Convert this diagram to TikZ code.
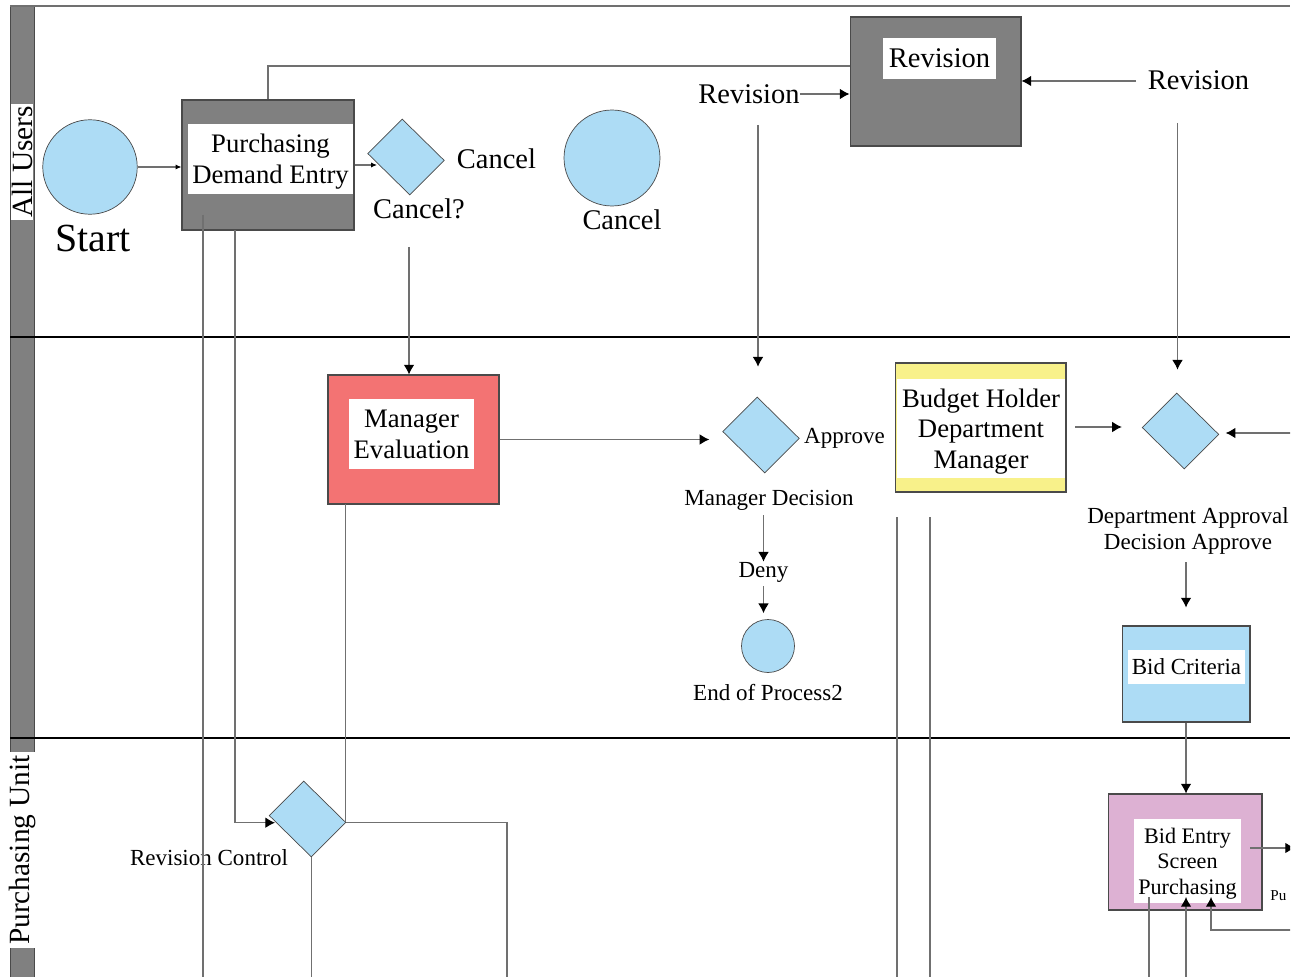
\documentclass[tikz,border=0pt]{standalone}
\usepackage{fontspec}
\setmainfont{Liberation Serif}
\usetikzlibrary{shapes.geometric,arrows.meta}

\definecolor{procgray}{HTML}{808080}
\definecolor{edgegray}{HTML}{4A4A4A}
\definecolor{linegray}{HTML}{707070}
\definecolor{evblue}{HTML}{ADDCF5}
\definecolor{evalred}{HTML}{F37373}
\definecolor{budyellow}{HTML}{F8F18A}
\definecolor{bidpink}{HTML}{DDB1D3}

\newcommand{\fntstart}{\fontsize{22.7}{26}\selectfont}
\newcommand{\fntlane}{\fontsize{16.7}{19}\selectfont}
\newcommand{\fntlabel}{\fontsize{16.2}{19}\selectfont}
\newcommand{\fntbox}{\fontsize{15.2}{17.4}\selectfont}
\newcommand{\fntnote}{\fontsize{13.1}{15.3}\selectfont}
\newcommand{\fntbid}{\fontsize{12.6}{14.5}\selectfont}
\newcommand{\fntclip}{\fontsize{8.6}{10}\selectfont}

\begin{document}
\begin{tikzpicture}[x=0.02cm,y=-0.02cm,
  conn/.style={draw=linegray,line width=0.6pt},
  arr/.style={conn,-{Latex[length=5.5pt,width=6pt,color=black]}},
  sarr/.style={conn,-{Latex[length=3.4pt,width=3pt,color=black]}},
  laneline/.style={draw=black,line width=0.6pt},
  lanelabel/.style={fill=white,rotate=90,inner xsep=1.5pt,inner ysep=0pt,minimum height=0.46cm,font=\fntlane},
  task/.style={draw=edgegray,line width=0.6pt,inner sep=0pt},
  tasktext/.style={fill=white,inner sep=0pt,align=center,text depth=0pt,font=\fntbox},
  decision/.style={diamond,draw=edgegray,fill=evblue,line width=0.4pt,inner sep=0pt,
    minimum width=1.52cm,minimum height=1.52cm,xslant=-0.1,yslant=-0.09},
  event/.style={circle,draw=edgegray,fill=evblue,line width=0.4pt,inner sep=0pt},
  lbl/.style={inner sep=0pt,font=\fntlabel},
  note/.style={inner sep=0pt,font=\fntnote,align=center}]
\useasboundingbox (0,0) rectangle (1300,976);
\clip (0,0) rectangle (1290,976);

% swim lanes
\draw[draw=edgegray,fill=procgray] (10,6) rectangle (34,990);
\draw[conn] (10,6) -- (1290,6);
\draw[laneline] (10,337) -- (1290,337);
\draw[laneline] (10,738) -- (1290,738);
\node[lanelabel] (users) at (22,162) {All Users};
\node[lanelabel] (purch) at (22,850) {Purchasing Unit};

% All Users
\node[event,minimum size=1.89cm] (start) at (90,167) {};
\node[lbl,font=\fntstart] (startlbl) at (93,238) {Start};
\node[task,fill=procgray,minimum width=3.44cm,minimum height=2.6cm] (pde) at (268,165) {};
\node[tasktext,minimum width=3.3cm,minimum height=1.4cm] (pdetxt) at (270.5,159) {Purchasing\\Demand Entry};
\node[decision] (cancelq) at (406,157) {};
\node[lbl] (cancelqlbl) at (419,208.5) {Cancel?};
\node[lbl] (cancelyes) at (496.5,158.5) {Cancel};
\node[event,minimum size=1.92cm] (cancel) at (612,158) {};
\node[lbl] (cancellbl) at (622,220) {Cancel};
\node[task,fill=procgray,minimum width=3.42cm,minimum height=2.58cm] (rev) at (935.5,81.5) {};
\node[tasktext,font=\fntlabel,minimum width=2.26cm,minimum height=0.82cm] (revtxt) at (939.5,58.5) {Revision};
\node[lbl] (revleft) at (749,94) {Revision};
\node[lbl] (revright) at (1198.5,80.5) {Revision};

% Manager
\node[task,fill=evalred,minimum width=3.42cm,minimum height=2.58cm] (meval) at (413.5,439.5) {};
\node[tasktext,minimum width=2.5cm,minimum height=1.4cm] (mevaltxt) at (411.5,434) {Manager\\Evaluation};
\node[decision] (mdec) at (761,435) {};
\node[lbl,font=\fntnote] (approve) at (844.5,438) {Approve};
\node[note] (mdeclbl) at (769,500) {Manager Decision};
\node[note] (deny) at (763.5,572) {Deny};
\node[event,minimum size=1.06cm] (endp) at (768,646) {};
\node[note] (endlbl) at (768,693) {End of Process2};
\node[task,fill=budyellow,minimum width=3.42cm,minimum height=2.58cm] (budget) at (980.5,427.5) {};
\node[tasktext,minimum width=3.36cm,minimum height=1.98cm] (budgettxt) at (981,428.5) {Budget Holder\\Department\\Manager};
\node[decision] (ddec) at (1180.5,431) {};
\node[note] (ddeclbl) at (1188,531) {Department Approval\\Decision Approve};
\node[task,fill=evblue,minimum width=2.56cm,minimum height=1.92cm] (bidc) at (1186,674) {};
\node[tasktext,font=\fntnote,minimum width=2.34cm,minimum height=0.68cm] (bidctxt) at (1186.5,667) {Bid Criteria};

% Purchasing Unit
\node[decision] (rctl) at (307.5,819) {};
\node[note] (rctllbl) at (209,858) {Revision Control};
\node[task,fill=bidpink,minimum width=3.08cm,minimum height=2.32cm] (bide) at (1185,852) {};
\node[tasktext,font=\fntbid,minimum width=2.14cm,minimum height=1.68cm] (bidetxt) at (1187.5,861) {Bid Entry\\Screen\\Purchasing};
\node[lbl,font=\fntclip,anchor=west] (pu) at (1270,896) {Pu};

% free ends
\coordinate (cqin) at (377,165);
\coordinate (cqout) at (409,247);
\coordinate (loop) at (850,66);
\coordinate (revin) at (1136,81);
\coordinate (revldown) at (758,125);
\coordinate (revrdown) at (1177.5,123);
\coordinate (pdedown1) at (203,215);
\coordinate (pdedown2) at (235,230);
\coordinate (rcin) at (275,822.7);
\coordinate (meout) at (345.5,504);
\coordinate (rcright) at (507,990);
\coordinate (budl) at (897,517);
\coordinate (budr) at (930,517);
\coordinate (budout) at (1075,427);
\coordinate (ddin) at (1292,433);
\coordinate (bideout) at (1250,848);
\coordinate (bidein1) at (1186,990);
\coordinate (bidel) at (1149,897);
\coordinate (bidein2) at (1292,930);

% connectors
\draw[sarr] (start.east) -- (start.east -| pde.west);
\draw[sarr] (pde.east |- cqin) -- (cqin);
\draw[conn] (pde.north) |- (loop);
\draw[arr] (revleft.east) -- (revleft.east -| rev.west);
\draw[arr] (revin) -- (revin -| rev.east);
\draw[conn] (pdedown1) -- ++(0,775);
\draw[arr] (pdedown2) |- (rcin);
\draw[arr] (cqout) -- (cqout |- meval.north);
\draw[arr,shorten >=0.6cm] (revldown) -- (revldown |- mdec.north);
\draw[arr,shorten >=0.46cm] (revrdown) -- (revrdown |- ddec.north);
\draw[arr,shorten >=0.26cm] (meval.east) -- (meval.east -| mdec.west);
\draw[arr,shorten <=0.1cm] (deny.north |- mdeclbl.south) -- (deny.north);
\draw[arr,shorten <=0.08cm,shorten >=0.12cm] (deny.south) -- (deny.south |- endp.north);
\draw[conn] (budl) -- ++(0,470);
\draw[conn] (budr) -- ++(0,470);
\draw[arr,shorten >=0.4cm] (budout) -- (budout -| ddec.west);
\draw[arr,shorten >=0.13cm] (ddin) -- (ddin -| ddec.east);
\draw[arr,shorten <=0.14cm,shorten >=0.36cm] (ddeclbl.south -| bidc.north) -- (bidc.north);
\draw[arr] (bidc.south) -- (bidc.south |- bide.north);
\draw[conn] (meout) -- (meout |- rctl.east);
\draw[conn] (rctl.east) -| (rcright);
\draw[conn] (rctl.south) -- ++(0,140);
\draw[arr] (bideout) -- ++(45,0);
\draw[arr] (bidein1) -- ++(0,-93);
\draw[conn] (bidel) -- ++(0,90);
\draw[arr] (bidein2) -| ++(-81,-33);
\end{tikzpicture}
\end{document}
